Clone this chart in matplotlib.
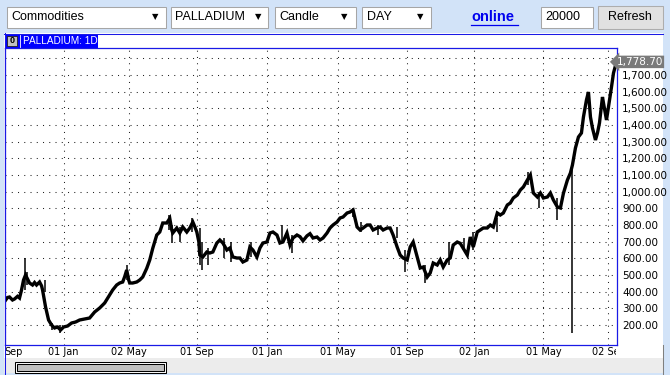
import matplotlib
matplotlib.use('Agg')
import matplotlib.pyplot as plt
from matplotlib.patches import Rectangle
from matplotlib.lines import Line2D
from matplotlib.transforms import Affine2D, Bbox, TransformedBbox, blended_transform_factory

# ---------------- data (bar index along the x axis, price) ----------------
bar = [0, 3, 5, 8, 10, 13, 15, 17, 19, 21, 22, 25, 28, 30, 32, 35, 37, 38, 41, 44,
       47, 50, 53, 56, 59, 63, 67, 71, 75, 80, 85, 90, 95, 100, 105, 108, 112, 115, 118, 120,
       122, 124, 125, 128, 132, 135, 138, 142, 145, 148, 152, 155, 158, 162, 165, 167, 168, 172, 175, 178,
       182, 185, 188, 190, 192, 194, 195, 198, 202, 205, 208, 212, 215, 218, 222, 225, 228, 232, 235, 238,
       242, 245, 248, 252, 255, 258, 262, 265, 268, 272, 275, 278, 282, 285, 288, 292, 295, 298, 302, 305,
       308, 312, 315, 318, 322, 325, 328, 332, 335, 338, 342, 345, 348, 350, 352, 355, 358, 362, 365, 368,
       372, 375, 378, 382, 385, 388, 392, 395, 398, 402, 405, 408, 412, 415, 418, 422, 425, 428, 432, 435,
       438, 442, 445, 448, 452, 455, 458, 462, 465, 468, 472, 475, 478, 482, 485, 488, 492, 495, 498, 502,
       505, 508, 512, 515, 518, 522, 525, 528, 532, 535, 538, 542, 545, 548, 552, 555, 558, 562, 565, 567,
       570, 573, 576, 578, 581, 583, 585, 587, 588, 590, 592, 594, 597, 598, 601, 603, 606, 608, 611]
close = [340, 365, 368, 350, 356, 372, 362, 410, 470, 500, 488, 452, 440, 455, 440, 458, 435, 410, 308, 230,
         200, 182, 188, 170, 188, 194, 212, 218, 230, 236, 242, 278, 302, 332, 380, 410, 440, 452, 458, 490,
         530, 470, 452, 452, 458, 470, 488, 540, 590, 660, 740, 758, 812, 812, 840, 770, 752, 782, 752, 788,
         758, 782, 818, 790, 758, 700, 620, 608, 638, 632, 638, 692, 710, 692, 650, 662, 608, 602, 602, 578,
         590, 668, 650, 608, 662, 692, 698, 752, 758, 740, 692, 698, 752, 680, 722, 740, 730, 705, 735, 748,
         722, 728, 710, 722, 752, 782, 800, 818, 842, 848, 872, 878, 890, 840, 788, 770, 782, 800, 800, 770,
         782, 788, 770, 782, 782, 740, 668, 620, 602, 590, 668, 698, 608, 542, 548, 488, 512, 572, 560, 590,
         548, 590, 602, 680, 698, 690, 660, 620, 728, 668, 758, 770, 782, 782, 800, 788, 872, 860, 872, 920,
         932, 962, 980, 1010, 1028, 1070, 1100, 992, 968, 992, 962, 968, 992, 950, 908, 902, 990, 1070, 1112, 1160,
         1262, 1328, 1352, 1448, 1550, 1598, 1448, 1382, 1358, 1310, 1352, 1412, 1568, 1532, 1430, 1508, 1628, 1712, 1778.7]
# visible wicks (bar, low, high)
spike_bar = [20, 22, 40, 47, 55, 122, 164, 167, 175, 187, 195, 197, 203, 219, 226, 246, 277, 287,
             348, 356, 373, 392, 400, 420, 444, 459, 468, 492, 523, 534, 552, 567]
spike_low = [410, 440, 400, 170, 150, 470, 770, 690, 698, 760, 560, 530, 560, 600, 580, 610, 700, 632,
             850, 760, 740, 720, 518, 452, 560, 650, 650, 760, 1040, 902, 830, 152]
spike_high = [600, 520, 470, 215, 200, 560, 860, 800, 790, 842, 780, 700, 660, 720, 700, 700, 800, 740,
              900, 820, 800, 790, 650, 560, 700, 720, 760, 840, 1118, 1000, 960, 1160]

last_price = 1778.70
price_ticks = [200, 300, 400, 500, 600, 700, 800, 900, 1000, 1100, 1200, 1300, 1400, 1500, 1600, 1700, 1800]
date_tick_bar = [0, 59, 124, 192, 262, 333, 402, 469, 538, 603]
date_tick_labels = ['Sep', '01 Jan', '02 May', '01 Sep', '01 Jan', '01 May', '01 Sep', '02 Jan', '01 May', '02 Sep']

# ---------------- figure ----------------
W, H = 670, 375
fig = plt.figure(figsize=(W / 100, H / 100), dpi=100)
fig.patch.set_facecolor('#d2e3f8')
PX = Affine2D().scale(1 / W, -1 / H).translate(0, 1) + fig.transFigure


def rect(x0, y0, x1, y1, fc, ec='none', lw=1.0, z=0):
    fig.add_artist(Rectangle((x0, y0), x1 - x0, y1 - y0, transform=PX, fc=fc, ec=ec, lw=lw, zorder=z))


def txt(x, y, s, **kw):
    kw.setdefault('family', 'Liberation Sans')
    fig.text(x, y, s, transform=PX, **kw)


# toolbar
boxes = [(6.5, 165.5, 'Commodities', 155), (170.5, 267.5, 'PALLADIUM', 258), (274.5, 355.5, 'Candle', 344),
         (361.5, 430.5, 'DAY', 420)]
for x0, x1, label, ax_ in boxes:
    rect(x0, 6.5, x1, 27.5, 'white', '#a6a6a6', 0.75)
    txt(x0 + 5, 17.5, label, fontsize=9, va='center', ha='left', color='black')
    txt(ax_, 17, '\u25bc', fontsize=6, va='center', ha='center', color='black', family='DejaVu Sans')
txt(471, 17, 'online', fontsize=10.5, fontweight='bold', va='center', ha='left', color='#0000ee')
fig.add_artist(Line2D([471, 518], [25, 25], transform=PX, color='#0000ee', lw=0.9))
rect(540.5, 6.5, 592.5, 27.5, 'white', '#a6a6a6', 0.75)
txt(545, 17.5, '20000', fontsize=9, va='center', ha='left', color='black')
rect(597.5, 5.5, 662.5, 28.5, '#e1e1e1', '#adadad', 0.75)
txt(630, 17.5, 'Refresh', fontsize=9, va='center', ha='center', color='black')

# chart panel
rect(4, 33, 663, 358, 'white', z=0)
rect(4, 358, 663, 373, '#ececec', z=0)
fig.add_artist(Line2D([4, 663], [33.5, 33.5], transform=PX, color='#1a1ae6', lw=0.75))
fig.add_artist(Line2D([4.5, 4.5], [33, 374], transform=PX, color='#1a1ae6', lw=0.75))
fig.add_artist(Line2D([662.5, 662.5], [345, 374], transform=PX, color='#7f7f7f', lw=0.75))
# header tab
rect(5, 34, 98, 47.5, '#0000ff')
rect(7, 35.5, 17, 45.5, '#c0c0c0', '#202020', 0.6)
txt(12, 40.5, '0', fontsize=6.5, fontweight='bold', va='center', ha='center', color='black')
fig.add_artist(Line2D([19.5, 19.5], [35, 47], transform=PX, color='white', lw=0.6))
txt(23, 41, 'PALLADIUM: 1D', fontsize=7.2, va='center', ha='left', color='white')
# scroll thumb
rect(14.5, 361.5, 165.5, 372.5, 'white', 'black', 0.75)
rect(16.5, 363.5, 163.5, 370.5, '#c0c0c0', 'black', 0.75)

# ---------------- axes ----------------
ax = fig.add_axes([4.5 / W, (H - 344.5) / H, 612 / W, (344.5 - 48) / H])
ax.set_facecolor('white')
ax.set_xlim(0, 611)
ax.set_ylim(83, 1862)
ax.plot(bar, close, color='black', lw=2.4, solid_joinstyle='miter', zorder=3)
ax.vlines(spike_bar, spike_low, spike_high, color='black', lw=1.1, zorder=3)

ax.set_yticks(price_ticks)
ax.set_yticklabels([f'{v:,.2f}' if v != 1800 else '' for v in price_ticks])
ax.yaxis.tick_right()
ax.set_xticks(date_tick_bar)
ax.set_xticklabels(date_tick_labels)
ax.tick_params(axis='y', length=0, pad=4, labelsize=7.5)
ax.tick_params(axis='x', length=0, pad=2, labelsize=7)
for lab in ax.get_yticklabels() + ax.get_xticklabels():
    lab.set_family('DejaVu Sans')
xl = ax.get_xticklabels()
xl[0].set_ha('left')
clip = TransformedBbox(Bbox.from_extents(0, 0, 616 / W, 1), fig.transFigure)
xl[-1].set_clip_box(clip)
xl[-1].set_clip_on(True)

ax.grid(True, color='#222222', lw=0.75, linestyle=(0, (1, 5)), zorder=1)
ax.set_axisbelow(True)
for s in ax.spines.values():
    s.set_color('#1a1ae6')
    s.set_linewidth(0.9)

tr = blended_transform_factory(ax.transAxes, ax.transData)
ax.text(1.0, last_price, f'{last_price:,.2f}', transform=tr, ha='left', va='center', color='white',
        fontsize=7.5, family='DejaVu Sans', zorder=5, clip_on=False,
        bbox=dict(boxstyle='larrow,pad=0.12', fc='#7a7a7a', ec='none'))

fig.savefig('out.png', dpi=100, facecolor=fig.get_facecolor())
